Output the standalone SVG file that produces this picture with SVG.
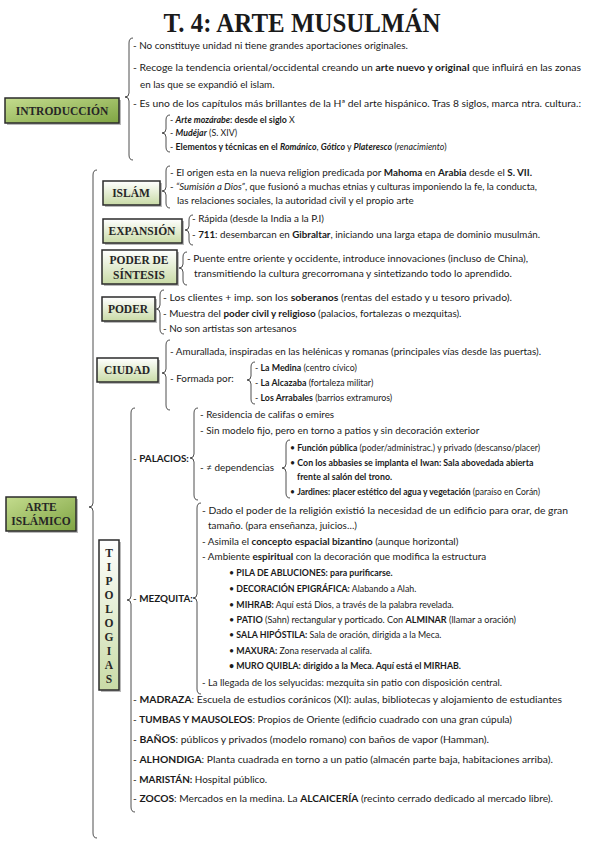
<svg xmlns="http://www.w3.org/2000/svg" width="599" height="848" viewBox="0 0 599 848">
<defs>
<linearGradient id="gMain" x1="0" y1="0" x2="1" y2="1">
<stop offset="0" stop-color="#c4dc8e"/><stop offset="1" stop-color="#7fa443"/>
</linearGradient>
<linearGradient id="gSub" x1="0" y1="0" x2="0" y2="1">
<stop offset="0" stop-color="#ffffff"/><stop offset="1" stop-color="#c9dba6"/>
</linearGradient>
<style>
.t{font-family:Lato,"Liberation Sans",sans-serif;font-size:9.9px;fill:#1a1a1a}
.s{font-size:8.8px}
.b{font-weight:bold}
.i{font-style:italic}
.lbl{font-family:"Liberation Serif",serif;font-weight:bold;font-size:11.5px;fill:#262626;text-anchor:middle}
.br{fill:none;stroke:#222;stroke-width:0.8}
.box{stroke:#2b2b2b;stroke-width:1.5}
.sh{fill:#8a8a8a;opacity:0.6}
</style>
</defs>
<rect width="599" height="848" fill="#ffffff"/>
<text x="302" y="32" text-anchor="middle" textLength="277" lengthAdjust="spacingAndGlyphs" style="font-family:'Liberation Serif',serif;font-weight:bold;font-size:27px;fill:#1a1a1a">T. 4: ARTE MUSULMÁN</text>

<g id="connectors">
<path class="br" d="M133,38 Q129,38 129,43 L129,93 Q129,97 125,97 Q129,97 129,101 L129,155 Q129,160 133,160"/>
<path class="br" d="M170,115 Q166,115 166,120 L166,129 Q166,133 162,133 Q166,133 166,137 L166,147 Q166,152 170,152"/>
<path class="br" d="M97,170 Q93,170 93,175 L93,503 Q93,507 89,507 Q93,507 93,511 L93,833 Q93,838 97,838"/>
<path class="br" d="M170,166 Q166,166 166,171 L166,187 Q166,191 162,191 Q166,191 166,195 L166,203 Q166,208 170,208"/>
<path class="br" d="M193,215 Q189,215 189,220 L189,226 Q189,230 185,230 Q189,230 189,234 L189,240 Q189,245 193,245"/>
<path class="br" d="M187,252 Q183,252 183,257 L183,264 Q183,268 179,268 Q183,268 183,272 L183,280 Q183,285 187,285"/>
<path class="br" d="M164,290 Q160,290 160,295 L160,305 Q160,309 156,309 Q160,309 160,313 L160,329 Q160,334 164,334"/>
<path class="br" d="M170,340 Q166,340 166,345 L166,369 Q166,373 162,373 Q166,373 166,377 L166,405 Q166,410 170,410"/>
<path class="br" d="M255,362 Q251,362 251,367 L251,376 Q251,380 247,380 Q251,380 251,384 L251,399 Q251,404 255,404"/>
<path class="br" d="M135,408 Q131,408 131,413 L131,596 Q131,600 127,600 Q131,600 131,604 L131,807 Q131,812 135,812"/>
<path class="br" d="M198,408 Q194,408 194,413 L194,454 Q194,458 190,458 Q194,458 194,462 L194,495 Q194,500 198,500"/>
<path class="br" d="M290,440 Q286,440 286,445 L286,464 Q286,468 282,468 Q286,468 286,472 L286,493 Q286,498 290,498"/>
<path class="br" d="M201,503 Q197,503 197,508 L197,594 Q197,598 193,598 Q197,598 197,602 L197,689 Q197,694 201,694"/>
</g>

<g id="introduccion">
<rect class="sh" x="7" y="100" width="114" height="25"/>
<rect class="box" x="5" y="98" width="114" height="25" fill="url(#gMain)"/>
<text class="lbl" x="62" y="115">INTRODUCCIÓN</text>
<text class="t" x="133" y="49">- No constituye unidad ni tiene grandes aportaciones originales.</text>
<text class="t" x="133" y="71" textLength="448" lengthAdjust="spacingAndGlyphs">- Recoge la tendencia oriental/occidental creando un <tspan class="b">arte nuevo y original</tspan> que influirá en las zonas</text>
<text class="t" x="140" y="88">en las que se expandió el islam.</text>
<text class="t" x="133" y="107" textLength="448" lengthAdjust="spacingAndGlyphs">- Es uno de los capítulos más brillantes de la Hª del arte hispánico. Tras 8 siglos, marca ntra. cultura.:</text>
<text class="t s" x="170" y="123">- <tspan class="b i">Arte mozárabe</tspan><tspan class="b">: desde el siglo</tspan> X</text>
<text class="t s" x="170" y="136">- <tspan class="b i">Mudéjar</tspan> (S. XIV)</text>
<text class="t s" x="170" y="150">- <tspan class="b">Elementos y técnicas en el </tspan><tspan class="b i">Románico</tspan>, <tspan class="b i">Gótico</tspan> y <tspan class="b i">Plateresco</tspan> (<tspan class="i">renacimiento</tspan>)</text>
</g>

<g id="arte-islamico">
<rect class="sh" x="8" y="499" width="70" height="34"/>
<rect class="box" x="6" y="497" width="70" height="34" fill="url(#gMain)"/>
<text class="lbl" x="41" y="511">ARTE</text>
<text class="lbl" x="41" y="525">ISLÁMICO</text>
</g>

<g id="islam">
<rect class="sh" x="105" y="183" width="57" height="24"/>
<rect class="box" x="103" y="181" width="57" height="24" fill="url(#gSub)"/>
<text class="lbl" x="131" y="197">ISLÁM</text>
<text class="t" x="170" y="176" textLength="362" lengthAdjust="spacingAndGlyphs">- El origen esta en la nueva religion predicada por <tspan class="b">Mahoma</tspan> en <tspan class="b">Arabia</tspan> desde el <tspan class="b">S. VII.</tspan></text>
<text class="t" x="170" y="190" textLength="367" lengthAdjust="spacingAndGlyphs">- <tspan class="i">“Sumisión a Dios”</tspan>, que fusionó a muchas etnias y culturas imponiendo la fe, la conducta,</text>
<text class="t" x="177" y="204">las relaciones sociales, la autoridad civil y el propio arte</text>
</g>

<g id="expansion">
<rect class="sh" x="105" y="221" width="79" height="24"/>
<rect class="box" x="103" y="219" width="79" height="24" fill="url(#gSub)"/>
<text class="lbl" x="142" y="235">EXPANSIÓN</text>
<text class="t" x="192" y="222">- Rápida (desde la India a la P.I)</text>
<text class="t" x="192" y="238" textLength="348" lengthAdjust="spacingAndGlyphs">- <tspan class="b">711</tspan>: desembarcan en <tspan class="b">Gibraltar</tspan>, iniciando una larga etapa de dominio musulmán.</text>
</g>

<g id="poder-sintesis">
<rect class="sh" x="104" y="252" width="75" height="34"/>
<rect class="box" x="102" y="250" width="75" height="34" fill="url(#gSub)"/>
<text class="lbl" x="139" y="264">PODER DE</text>
<text class="lbl" x="139" y="279">SÍNTESIS</text>
<text class="t" x="187" y="262" textLength="341" lengthAdjust="spacingAndGlyphs">- Puente entre oriente y occidente, introduce innovaciones (incluso de China),</text>
<text class="t" x="194" y="277" textLength="318" lengthAdjust="spacingAndGlyphs">transmitiendo la cultura grecorromana y sintetizando todo lo aprendido.</text>
</g>

<g id="poder">
<rect class="sh" x="104" y="299" width="53" height="24"/>
<rect class="box" x="102" y="297" width="53" height="24" fill="url(#gSub)"/>
<text class="lbl" x="128" y="313">PODER</text>
<text class="t" x="163" y="301" textLength="349" lengthAdjust="spacingAndGlyphs">- Los clientes + imp. son los <tspan class="b">soberanos</tspan> (rentas del estado y u tesoro privado).</text>
<text class="t" x="163" y="317">- Muestra del <tspan class="b">poder civil y religioso</tspan> (palacios, fortalezas o mezquitas).</text>
<text class="t" x="163" y="332">- No son artistas son artesanos</text>
</g>

<g id="ciudad">
<rect class="sh" x="99" y="360" width="61" height="24"/>
<rect class="box" x="97" y="358" width="61" height="24" fill="url(#gSub)"/>
<text class="lbl" x="127" y="374">CIUDAD</text>
<text class="t" x="170" y="355" textLength="371" lengthAdjust="spacingAndGlyphs">- Amurallada, inspiradas en las helénicas y romanas (principales vías desde las puertas).</text>
<text class="t" x="170" y="382">- Formada por:</text>
<text class="t s" x="255" y="371">- <tspan class="b">La Medina</tspan> (centro cívico)</text>
<text class="t s" x="255" y="386">- <tspan class="b">La Alcazaba</tspan> (fortaleza militar)</text>
<text class="t s" x="255" y="401">- <tspan class="b">Los Arrabales</tspan> (barrios extramuros)</text>
</g>

<g id="tipologias">
<rect class="sh" x="101" y="542" width="20" height="150"/>
<rect class="box" x="99" y="540" width="20" height="150" fill="url(#gSub)"/>
<text class="lbl" x="109" y="557">T</text>
<text class="lbl" x="109" y="571">I</text>
<text class="lbl" x="109" y="585">P</text>
<text class="lbl" x="109" y="599">O</text>
<text class="lbl" x="109" y="613">L</text>
<text class="lbl" x="109" y="627">O</text>
<text class="lbl" x="109" y="641">G</text>
<text class="lbl" x="109" y="655">I</text>
<text class="lbl" x="109" y="669">A</text>
<text class="lbl" x="109" y="683">S</text>
</g>

<g id="palacios">
<text class="t" x="133" y="462">- <tspan class="b">PALACIOS:</tspan></text>
<text class="t" x="200" y="418">- Residencia de califas o emires</text>
<text class="t" x="200" y="434">- Sin modelo fijo, pero en torno a patios y sin decoración exterior</text>
<text class="t" x="200" y="471">- ≠ dependencias</text>
<text class="t s" x="290" y="451" textLength="250" lengthAdjust="spacingAndGlyphs">• <tspan class="b">Función pública</tspan> (poder/administrac.) y privado (descanso/placer)</text>
<text class="t s" x="290" y="466">• <tspan class="b">Con los abbasies se implanta el Iwan: Sala abovedada abierta</tspan></text>
<text class="t s b" x="297" y="480">frente al salón del trono.</text>
<text class="t s" x="290" y="495" textLength="250" lengthAdjust="spacingAndGlyphs">• <tspan class="b">Jardines: placer estético del agua y vegetación</tspan> (paraíso en Corán)</text>
</g>

<g id="mezquita">
<text class="t" x="133" y="602">- <tspan class="b">MEZQUITA:</tspan></text>
<text class="t" x="202" y="514" textLength="366" lengthAdjust="spacingAndGlyphs">- Dado el poder de la religión existió la necesidad de un edificio para orar, de gran</text>
<text class="t" x="208" y="529">tamaño. (para enseñanza, juicios…)</text>
<text class="t" x="202" y="545">- Asimila el <tspan class="b">concepto espacial bizantino</tspan> (aunque horizontal)</text>
<text class="t" x="202" y="560">- Ambiente <tspan class="b">espiritual</tspan> con la decoración que modifica la estructura</text>
<text class="t s" x="229" y="576">• <tspan class="b">PILA DE ABLUCIONES: para purificarse.</tspan></text>
<text class="t s" x="229" y="592">• <tspan class="b">DECORACIÓN EPIGRÁFICA:</tspan> Alabando a Alah.</text>
<text class="t s" x="229" y="608">• <tspan class="b">MIHRAB:</tspan> Aquí está Dios, a través de la palabra revelada.</text>
<text class="t s" x="229" y="623" textLength="287" lengthAdjust="spacingAndGlyphs">• <tspan class="b">PATIO</tspan> (Sahn) rectangular y porticado. Con <tspan class="b">ALMINAR</tspan> (llamar a oración)</text>
<text class="t s" x="229" y="638">• <tspan class="b">SALA HIPÓSTILA:</tspan> Sala de oración, dirigida a la Meca.</text>
<text class="t s" x="229" y="654">• <tspan class="b">MAXURA:</tspan> Zona reservada al califa.</text>
<text class="t s b" x="229" y="669">• MURO QUIBLA: dirigido a la Meca. Aquí está el MIRHAB.</text>
<text class="t" x="202" y="686" textLength="300" lengthAdjust="spacingAndGlyphs">- La llegada de los selyucidas: mezquita sin patio con disposición central.</text>
</g>

<g id="otras-tipologias">
<text class="t" x="133" y="703" textLength="429" lengthAdjust="spacingAndGlyphs">- <tspan class="b">MADRAZA</tspan>: Escuela de estudios coránicos (XI): aulas, bibliotecas y alojamiento de estudiantes</text>
<text class="t" x="133" y="723" textLength="379" lengthAdjust="spacingAndGlyphs">- <tspan class="b">TUMBAS Y MAUSOLEOS</tspan>: Propios de Oriente (edificio cuadrado con una gran cúpula)</text>
<text class="t" x="133" y="743" textLength="356" lengthAdjust="spacingAndGlyphs">- <tspan class="b">BAÑOS</tspan>: públicos y privados (modelo romano) con baños de vapor (Hamman).</text>
<text class="t" x="133" y="763" textLength="420" lengthAdjust="spacingAndGlyphs">- <tspan class="b">ALHONDIGA</tspan>: Planta cuadrada en torno a un patio (almacén parte baja, habitaciones arriba).</text>
<text class="t" x="133" y="783">- <tspan class="b">MARISTÁN:</tspan> Hospital público.</text>
<text class="t" x="133" y="802" textLength="420" lengthAdjust="spacingAndGlyphs">- <tspan class="b">ZOCOS</tspan>: Mercados en la medina. La <tspan class="b">ALCAICERÍA</tspan> (recinto cerrado dedicado al mercado libre).</text>
</g>
</svg>
